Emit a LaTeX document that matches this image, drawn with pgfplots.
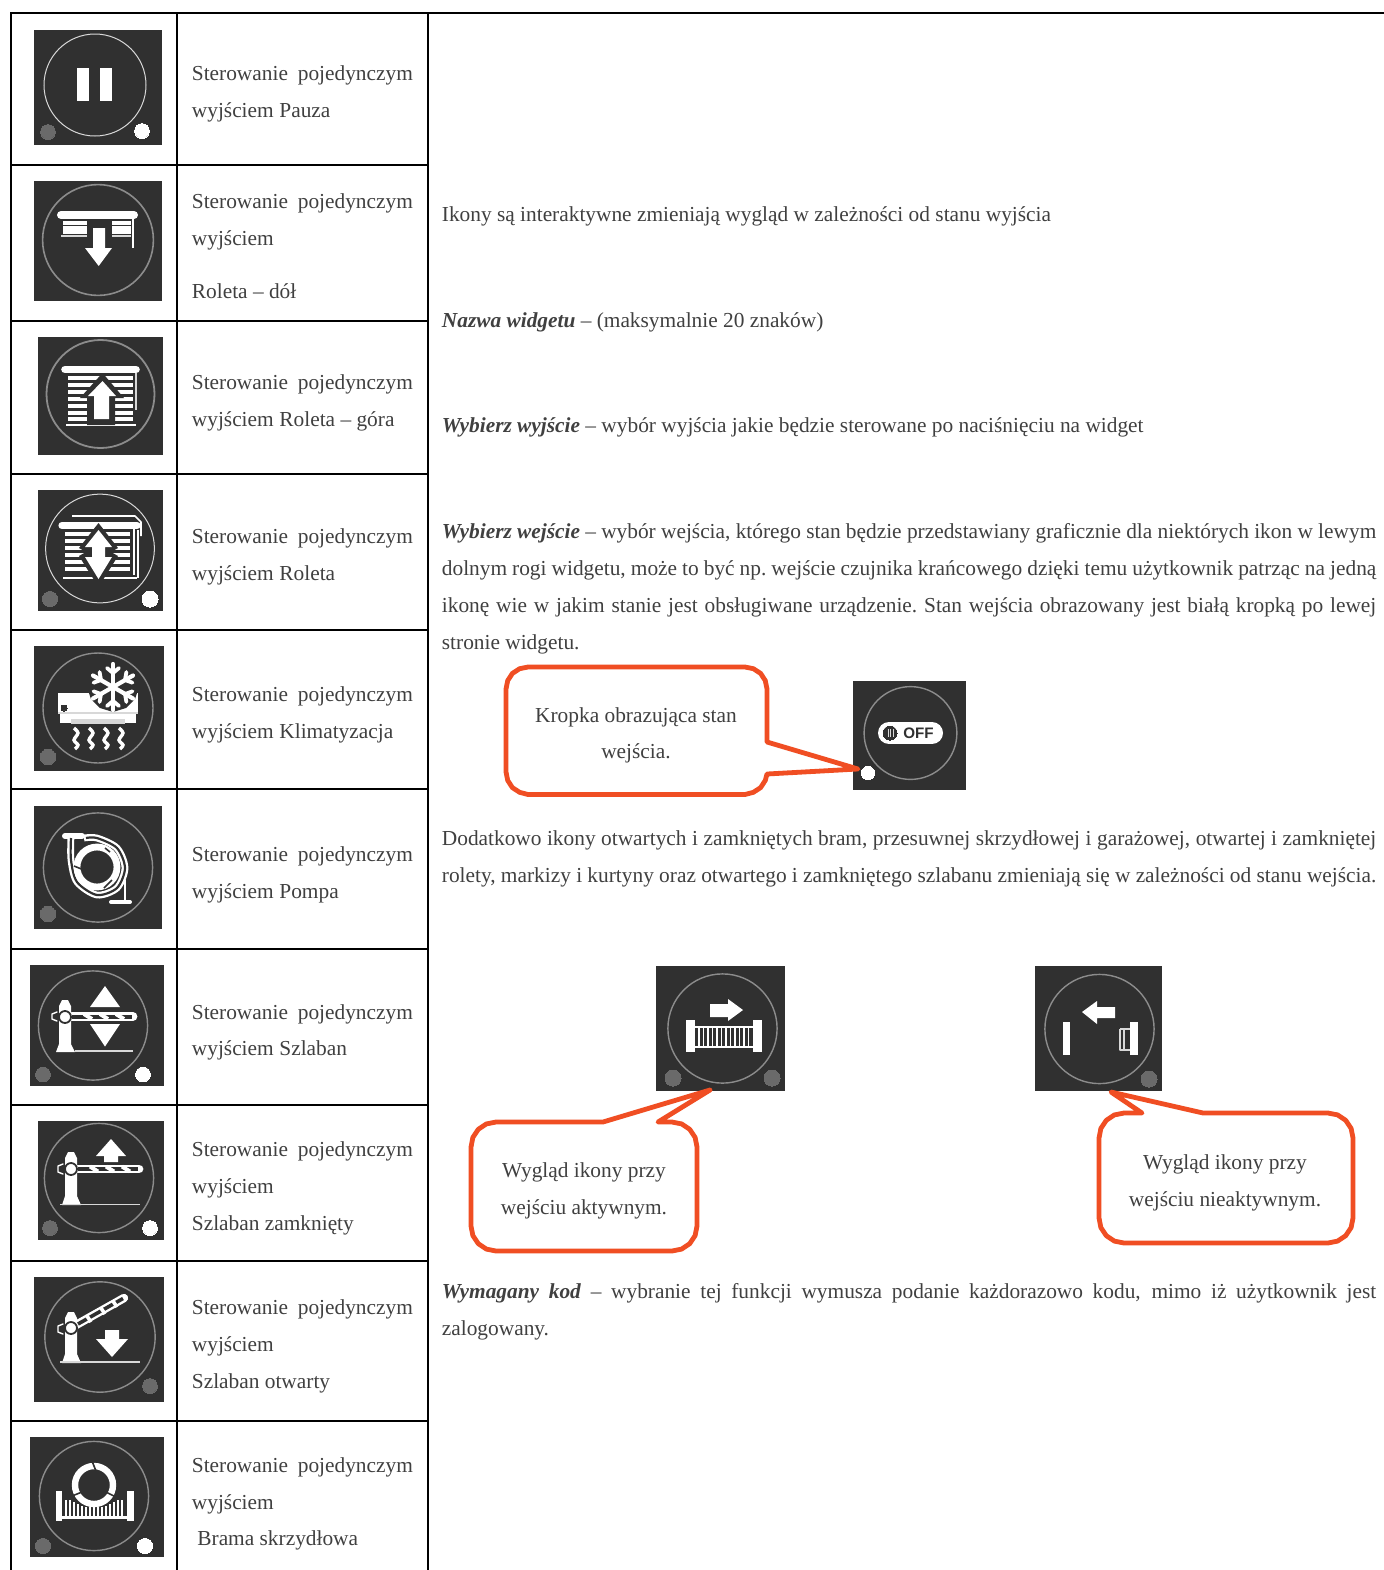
\documentclass[border=0pt]{standalone}
\usepackage{pgfplots}
\pgfplotsset{compat=1.18}
\usepackage{fontspec}
\setmainfont{Liberation Serif}
\newfontfamily\offfont{Liberation Sans}
\definecolor{tx}{HTML}{404040}
\definecolor{ic}{HTML}{303030}
\definecolor{gd}{HTML}{6A6A6A}
\definecolor{rg}{HTML}{8C8C8C}
\definecolor{rb}{HTML}{D8D8D8}
\definecolor{or}{HTML}{F04E23}
\newcommand{\RECT}[5]{\addplot[fill=#1,draw=none] coordinates {(#2,#3)(#4,#3)(#4,#5)(#2,#5)} --cycle;}
\newcommand{\POLY}[2]{\addplot[fill=#1,draw=none] coordinates {#2} --cycle;}
\newcommand{\LINE}[3]{\addplot[draw=#1,line width=#2pt,line join=round] coordinates {#3};}
\newcommand{\RLINE}[3]{\addplot[draw=#1,line width=#2pt,line cap=round,line join=round] coordinates {#3};}
\newcommand{\WAVE}[1]{\addplot[draw=white,line width=1.7pt,smooth] coordinates {#1};}
\newcommand{\DOT}[4]{\addplot[only marks,mark=*,mark size=#3pt,mark options={fill=#4,draw=#4,line width=0pt}] coordinates {(#1,#2)};}
\newcommand{\RING}[5]{\addplot[only marks,mark=o,mark size=#3pt,mark options={draw=#4,fill=none,line width=#5pt}] coordinates {(#1,#2)};}
\newcommand{\CALL}[1]{\addplot[draw=or,fill=white,line width=2.4pt,line join=round] coordinates {#1} --cycle;}
\newcommand{\TXT}[3]{\node[anchor=base west,inner sep=0pt,text=tx] at (axis cs:#1,#2) {\fontsize{\fs}{12}\selectfont #3};}
\newcommand{\CTXT}[3]{\node[anchor=base,inner sep=0pt,text=tx] at (axis cs:#1,#2) {\fontsize{\fs}{12}\selectfont #3};}
\newcommand{\JL}[2]{\TXT{191.5}{#1}{\makebox[110.5pt][s]{Sterowanie pojedynczym}}\TXT{191.5}{#2}{wyjściem}}
\newcommand{\JR}[2]{\TXT{441.5}{#1}{\makebox[467.2pt][s]{#2}}}
\def\fs{10.68}
\begin{document}
\begin{tikzpicture}
\begin{axis}[scale only axis,width=692pt,height=785pt,xmin=0,xmax=1384,ymin=0,ymax=1570,y dir=reverse,hide axis,clip=true,clip mode=individual]
\RECT{white}{0}{0}{1384}{1570}
% table rules
\LINE{black}{1}{(10,13)(1384,13)}
\LINE{black}{1}{(11,13)(11,1570)}
\LINE{black}{1}{(177,13)(177,1570)}
\LINE{black}{1}{(428,13)(428,1570)}
\LINE{black}{1}{(11,165)(428,165)}
\LINE{black}{1}{(11,321)(428,321)}
\LINE{black}{1}{(11,474)(428,474)}
\LINE{black}{1}{(11,630)(428,630)}
\LINE{black}{1}{(11,789)(428,789)}
\LINE{black}{1}{(11,949)(428,949)}
\LINE{black}{1}{(11,1105)(428,1105)}
\LINE{black}{1}{(11,1261)(428,1261)}
\LINE{black}{1}{(11,1421)(428,1421)}
% icon 1 pause
\RECT{ic}{34}{30}{162}{145}
\RING{95}{85}{25.5}{rb}{0.5}
\RECT{white}{77}{68}{89}{101}
\RECT{white}{100}{68}{112}{101}
\DOT{48}{132}{3.7}{gd}
\DOT{142}{131}{3.7}{white}
% icon 2 roller down
\RECT{ic}{34}{181}{162}{301}
\RING{98}{240}{27.7}{rg}{0.8}
\RLINE{white}{4}{(61,215)(134,215)}
\LINE{white}{1.6}{(63,223)(87,223)}
\LINE{white}{1.6}{(63,228)(87,228)}
\LINE{white}{1.6}{(63,232)(87,232)}
\LINE{rb}{1}{(61,236)(87,236)}
\LINE{white}{1.6}{(112,223)(131,223)}
\LINE{white}{1.6}{(112,228)(131,228)}
\LINE{white}{1.6}{(112,232)(131,232)}
\LINE{rb}{1}{(112,236)(131,236)}
\LINE{white}{1.1}{(133,219)(133,248)}
\POLY{white}{(93,228)(105,228)(105,248)(112,248)(98.7,266)(85,248)(93,248)}
% icon 3 roller up
\RECT{ic}{38}{337}{163}{455}
\RING{100.5}{394}{27}{rg}{0.9}
\RLINE{white}{3.8}{(65,369.5)(136,369.5)}
\LINE{white}{2.2}{(68,378)(133,378)}
\LINE{white}{2.2}{(68,385)(133,385)}
\LINE{white}{2.2}{(68,392)(133,392)}
\LINE{white}{2.2}{(68,399)(133,399)}
\LINE{white}{2.2}{(68,406)(133,406)}
\LINE{white}{2.2}{(68,413)(133,413)}
\LINE{white}{2.2}{(68,419)(133,419)}
\LINE{white}{1.4}{(66,425)(136,425)}
\LINE{rb}{0.8}{(136,373)(136,410)}
\POLY{ic}{(102.5,373)(124,398)(115,398)(115,425)(87,425)(87,398)(80,398)}
\POLY{white}{(102.5,381)(116,396)(109,396)(109,419)(94,419)(94,396)(88,396)}
% icon 4 roller both
\RECT{ic}{38}{490}{163}{611}
\RING{100}{548.5}{27.2}{rb}{0.5}
\LINE{white}{0.8}{(72,516)(135,516)(141,522)(141,536)}
\RLINE{white}{3.6}{(62,525.5)(137,525.5)}
\LINE{white}{1.9}{(65,534)(130,534)}
\LINE{white}{1.9}{(65,541)(130,541)}
\LINE{white}{1.9}{(65,548)(130,548)}
\LINE{white}{1.9}{(65,555)(130,555)}
\LINE{white}{1.9}{(65,562)(130,562)}
\LINE{white}{1.9}{(65,569)(130,569)}
\LINE{white}{1.3}{(63,578)(137,578)}
\LINE{white}{1}{(134,529)(134,575)}
\LINE{white}{0.8}{(138,530)(138,578)}
\POLY{ic}{(98.5,523)(118,548)(111,552)(118,556)(98.5,587)(79,556)(86,552)(79,548)}
\POLY{white}{(98.5,530)(112,547)(105,547)(105,557)(112,557)(98.5,579)(85,557)(92,557)(92,547)(85,547)}
\DOT{50}{599}{3.8}{gd}
\DOT{150}{599}{4}{white}
% icon 5 AC
\RECT{ic}{34}{646}{164}{771}
\RING{98}{708}{27.5}{rg}{0.7}
\RECT{white}{58}{693}{138}{712}
\RECT{rb}{58}{712}{138}{714}
\RECT{white}{60}{714}{136}{723}
\RECT{rb}{71}{719}{125}{724}
\POLY{ic}{(113,662)(126,666)(135,675)(139,687)(135,699)(126,708)(113,712)(100,708)(91,699)(87,687)(91,675)(100,666)}
\DOT{64}{708}{1.5}{ic}
\RLINE{white}{2.1}{(113,664)(113,710)}
\RLINE{white}{2.1}{(93,675.5)(133,698.5)}
\RLINE{white}{2.1}{(93,698.5)(133,675.5)}
\RLINE{white}{1.9}{(107,668)(113,673)(119,668)}
\RLINE{white}{1.9}{(107,706)(113,701)(119,706)}
\RLINE{white}{1.9}{(126.4,672)(125,680)(132.5,682.7)}
\RLINE{white}{1.9}{(99.6,672)(101,680)(93.5,682.7)}
\RLINE{white}{1.9}{(126.4,702)(125,694)(132.5,691.3)}
\RLINE{white}{1.9}{(99.6,702)(101,694)(93.5,691.3)}
\WAVE{(74,728)(78,733)(74,740)(78,745)(75,749)}
\WAVE{(89,728)(93,733)(89,740)(93,745)(90,749)}
\WAVE{(104,728)(108,733)(104,740)(108,745)(105,749)}
\WAVE{(119,728)(123,733)(119,740)(123,745)(120,749)}
\DOT{48}{757}{3.9}{gd}
% icon 6 pump
\RECT{ic}{34}{806}{162}{929}
\RING{98}{867.5}{27.3}{rg}{0.7}
\RLINE{white}{3}{(65,836)(82,836)}
\addplot[draw=white,line width=3.4pt,smooth] coordinates {(71,836)(71,860)(77,882)(97,895)(117,888)(125,868)(117,848)(97,838)(84,838)};
\addplot[draw=ic,line width=1.1pt,smooth] coordinates {(71,838)(71,860)(77,882)(97,895)(117,888)(125,868)(117,848)(97,838)(86,838)};
\LINE{white}{1.2}{(125,880)(125,902)}
\RLINE{white}{2}{(111,902)(130,902)}
\RING{97}{867}{10}{white}{3.4}
\LINE{ic}{0.8}{(105,848)(110,852)}
\LINE{ic}{0.8}{(74,866)(84,870)}
\LINE{ic}{0.8}{(112,880)(104,888)}
\DOT{48}{914}{3.9}{gd}
% icon 7 barrier
\RECT{ic}{30}{965}{164}{1086}
\RING{93}{1025.5}{27.3}{rg}{0.7}
\POLY{white}{(59,1006)(62,1000)(68,1000)(71,1006)(71,1044)(75,1052)(56,1052)(59,1044)}
\RLINE{white}{4.4}{(72,1016.5)(133,1016.5)}
\LINE{ic}{2}{(72,1016.5)(132,1016.5)}
\LINE{white}{2}{(84,1014)(92,1019)}
\LINE{white}{2}{(100,1014)(108,1019)}
\LINE{white}{2}{(116,1014)(124,1019)}
\RLINE{white}{0.7}{(57,1012)(52,1014)(52,1019)(57,1021)}
\RING{65}{1017}{3}{ic}{0.9}
\LINE{rb}{0.8}{(75,1051)(133,1051)}
\POLY{white}{(90,1007)(105,986)(120,1007)}
\POLY{white}{(90,1024)(120,1024)(105,1046.6)}
\DOT{43}{1074.5}{3.7}{gd}
\DOT{143}{1074.5}{3.7}{white}
% icon 8 barrier closed
\RECT{ic}{38}{1121}{164}{1240}
\RING{99}{1178}{27.3}{rg}{0.7}
\POLY{white}{(65,1158)(68,1152)(74,1152)(77,1158)(77,1196)(81,1205)(62,1205)(65,1196)}
\RLINE{white}{4.4}{(78,1169)(139,1169)}
\LINE{ic}{2}{(78,1169)(138,1169)}
\LINE{white}{2}{(90,1166.5)(98,1171.5)}
\LINE{white}{2}{(106,1166.5)(114,1171.5)}
\LINE{white}{2}{(122,1166.5)(130,1171.5)}
\RLINE{white}{0.7}{(63,1164)(58,1166)(58,1172)(63,1174)}
\RING{71}{1169}{3}{ic}{0.9}
\LINE{rb}{0.8}{(60,1204.5)(140,1204.5)}
\POLY{white}{(96,1156)(111,1139)(126,1156)(118,1156)(118,1162)(104,1162)(104,1156)}
\DOT{50}{1228}{3.7}{gd}
\DOT{150}{1228}{3.7}{white}
% icon 9 barrier open
\RECT{ic}{34}{1277}{164}{1402}
\RING{100}{1337}{27.6}{rg}{0.7}
\POLY{white}{(65,1318)(68,1312)(74,1312)(77,1318)(77,1354)(81,1363)(62,1363)(65,1354)}
\RLINE{white}{4.2}{(76,1325)(124,1298)}
\LINE{ic}{1.8}{(78,1324)(123,1298.5)}
\LINE{white}{1.8}{(87,1316)(91,1322)}
\LINE{white}{1.8}{(101,1308)(105,1314)}
\LINE{white}{1.8}{(113,1301)(117,1307)}
\RLINE{white}{0.7}{(63,1324)(58,1326)(58,1332)(63,1334)}
\RING{71}{1328}{3}{ic}{0.9}
\LINE{rb}{0.8}{(60,1362)(140,1362)}
\POLY{white}{(105,1330)(119,1330)(119,1339)(128,1339)(112,1357)(96,1339)(105,1339)}
\DOT{150}{1386}{3.7}{gd}
% icon 10 swing gate
\RECT{ic}{30}{1437}{164}{1557}
\RING{94}{1496}{27.3}{rg}{0.7}
\RECT{white}{56}{1491}{62}{1521}
\RECT{white}{127}{1491}{134}{1521}
\LINE{white}{1.5}{(62,1517)(127,1517)}
\LINE{white}{0.9}{(66,1500)(66,1517)}
\LINE{white}{0.9}{(70,1500)(70,1517)}
\LINE{white}{0.9}{(74,1502)(74,1517)}
\LINE{white}{0.9}{(78,1504)(78,1517)}
\LINE{white}{0.9}{(82,1506)(82,1517)}
\LINE{white}{0.9}{(86,1507)(86,1517)}
\LINE{white}{0.9}{(90,1507)(90,1517)}
\LINE{white}{0.9}{(94,1507)(94,1517)}
\LINE{white}{0.9}{(98,1507)(98,1517)}
\LINE{white}{0.9}{(102,1507)(102,1517)}
\LINE{white}{0.9}{(106,1506)(106,1517)}
\LINE{white}{0.9}{(110,1504)(110,1517)}
\LINE{white}{0.9}{(114,1502)(114,1517)}
\LINE{white}{0.9}{(118,1500)(118,1517)}
\LINE{white}{0.9}{(122,1500)(122,1517)}
\RING{94}{1485}{9.5}{white}{3.2}
\LINE{ic}{0.8}{(92,1461)(96,1471)}
\LINE{ic}{0.8}{(72,1496)(82,1492)}
\LINE{ic}{0.8}{(106,1492)(116,1497)}
\DOT{43}{1546}{3.8}{gd}
\DOT{145}{1546}{3.8}{white}
% callouts
\RECT{ic}{853}{681}{966}{790}
\RING{910.5}{733}{23.2}{rg}{0.7}
\RLINE{white}{11}{(889,733)(932,733)}
\DOT{890}{733}{3.5}{ic}
\LINE{rb}{0.4}{(888,729)(888,737)}
\LINE{rb}{0.4}{(890.5,729)(890.5,737)}
\LINE{rb}{0.4}{(893,729)(893,737)}
\node[anchor=center,inner sep=0pt,text=ic] at (axis cs:918.5,733) {\offfont\bfseries\fontsize{7.6}{8}\selectfont OFF};
\DOT{868}{773}{3.3}{white}
\CALL{(506,689)(507.7,680.6)(512.4,673.4)(519.6,668.7)(528,667)(745,667)(753.4,668.7)(760.6,673.4)(765.3,680.6)(767,689)(767,742)(858,769)(767,774)(765.3,780.4)(760.6,787.6)(753.4,792.3)(745,794.5)(528,794.5)(519.6,792.3)(512.4,787.6)(507.7,780.4)(506,772)}
% gate on
\RECT{ic}{656}{966}{785}{1091}
\RING{722.5}{1028.5}{27.3}{rg}{0.7}
\POLY{white}{(710,1004)(728,1004)(728,999)(743,1010)(728,1021)(728,1017)(710,1017)}
\RECT{white}{686}{1020}{695}{1052}
\RECT{white}{753}{1020}{762}{1052}
\LINE{white}{0.8}{(695,1027)(753,1027)}
\LINE{white}{1.4}{(695,1047)(753,1047)}
\LINE{white}{0.8}{(699,1027)(699,1047)}
\LINE{white}{0.8}{(703.5,1027)(703.5,1047)}
\LINE{white}{0.8}{(708,1027)(708,1047)}
\LINE{white}{0.8}{(712.5,1027)(712.5,1047)}
\LINE{white}{0.8}{(717,1027)(717,1047)}
\LINE{white}{0.8}{(721.5,1027)(721.5,1047)}
\LINE{white}{0.8}{(726,1027)(726,1047)}
\LINE{white}{0.8}{(730.5,1027)(730.5,1047)}
\LINE{white}{0.8}{(735,1027)(735,1047)}
\LINE{white}{0.8}{(739.5,1027)(739.5,1047)}
\LINE{white}{0.8}{(744,1027)(744,1047)}
\LINE{white}{0.8}{(748.5,1027)(748.5,1047)}
\DOT{673}{1078}{4}{gd}
\DOT{772}{1078}{4}{gd}
\CALL{(471,1147)(472.9,1137.4)(478.3,1129.3)(486.4,1123.9)(496,1122)(603,1122)(710,1090)(658,1122)(672,1122)(681.6,1123.9)(689.7,1129.3)(695.1,1137.4)(697,1147)(697,1226)(695.1,1235.6)(689.7,1243.7)(681.6,1249.1)(672,1251)(496,1251)(486.4,1249.1)(478.3,1243.7)(472.9,1235.6)(471,1226)}
% gate off
\RECT{ic}{1035}{966}{1162}{1091}
\RING{1099.5}{1029}{27.3}{rg}{0.7}
\POLY{white}{(1082,1012)(1097,1001)(1097,1007)(1115,1007)(1115,1018)(1097,1018)(1097,1024)}
\RECT{white}{1063}{1022}{1070}{1055}
\RECT{white}{1130}{1022}{1138}{1055}
\LINE{rb}{0.7}{(1120,1029)(1120,1050)(1130,1050)}
\LINE{rb}{0.7}{(1124,1029)(1124,1050)}
\LINE{rb}{0.7}{(1120,1029)(1130,1029)}
\DOT{1149}{1079}{4}{gd}
\CALL{(1099,1138)(1100.9,1128.4)(1106.3,1120.3)(1114.4,1114.9)(1124,1113)(1142,1113)(1111,1092)(1203,1113)(1328,1113)(1337.6,1114.9)(1345.7,1120.3)(1351.1,1128.4)(1353,1138)(1353,1218)(1351.1,1227.6)(1345.7,1235.7)(1337.6,1241.1)(1328,1243)(1124,1243)(1114.4,1241.1)(1106.3,1235.7)(1100.9,1227.6)(1099,1218)}
% left column text
\JL{80}{117}
\TXT{279}{117}{Pauza}
\JL{208.5}{245}
\TXT{191.5}{298}{Roleta – dół}
\JL{389}{426}
\TXT{279}{426}{Roleta – góra}
\JL{543}{580}
\TXT{279}{580}{Roleta}
\JL{701}{738}
\TXT{279}{738}{Klimatyzacja}
\JL{861}{898}
\TXT{279}{898}{Pompa}
\JL{1019}{1055}
\TXT{279}{1055}{Szlaban}
\JL{1156}{1193}
\TXT{191.5}{1230}{Szlaban zamknięty}
\JL{1314}{1351}
\TXT{191.5}{1388}{Szlaban otwarty}
\JL{1472}{1509}
\TXT{197}{1545}{Brama skrzydłowa}
% right column text
\TXT{441.5}{221}{Ikony są interaktywne zmieniają wygląd w zależności od stanu wyjścia}
\TXT{441.5}{327}{\textit{\textbf{Nazwa widgetu}} – (maksymalnie 20 znaków)}
\TXT{441.5}{432}{\textit{\textbf{Wybierz wyjście}} – wybór wyjścia jakie będzie sterowane po naciśnięciu na widget}
\JR{538}{\textit{\textbf{Wybierz wejście}} – wybór wejścia, którego stan będzie przedstawiany graficznie dla niektórych ikon w lewym}
\JR{575}{dolnym rogi widgetu, może to być np.\ wejście czujnika krańcowego dzięki temu użytkownik patrząc na jedną}
\JR{612}{ikonę wie w jakim stanie jest obsługiwane urządzenie.\ Stan wejścia obrazowany jest białą kropką po lewej}
\TXT{441.5}{649}{stronie widgetu.}
\CTXT{636}{722}{Kropka obrazująca stan}
\CTXT{636}{758}{wejścia.}
\JR{845}{Dodatkowo ikony otwartych i zamkniętych bram, przesuwnej skrzydłowej i garażowej, otwartej i zamkniętej}
\JR{882}{rolety, markizy i kurtyny oraz otwartego i zamkniętego szlabanu zmieniają się w zależności od stanu wejścia.}
\CTXT{584}{1177}{Wygląd ikony przy}
\CTXT{584}{1214}{wejściu aktywnym.}
\CTXT{1225}{1169}{Wygląd ikony przy}
\CTXT{1225}{1206}{wejściu nieaktywnym.}
\JR{1298}{\textit{\textbf{Wymagany kod}} – wybranie tej funkcji wymusza podanie każdorazowo kodu, mimo iż użytkownik jest}
\TXT{441.5}{1335}{zalogowany.}
\end{axis}
\end{tikzpicture}
\end{document}
